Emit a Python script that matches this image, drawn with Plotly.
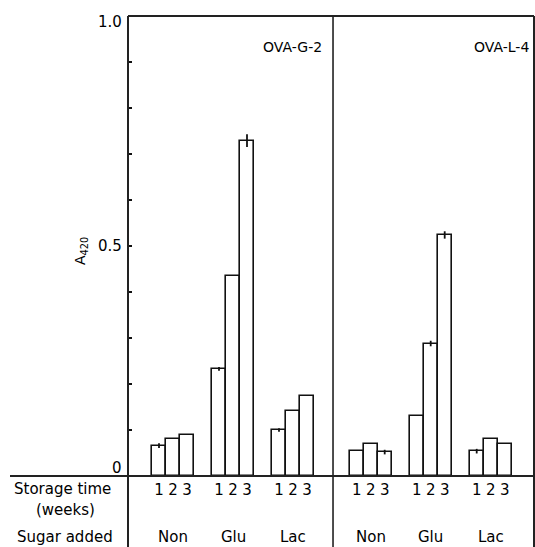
import plotly.graph_objects as go

# ---------------- data ----------------
PANELS = ["OVA-G-2", "OVA-L-4"]
SUGARS = ["Non", "Glu", "Lac"]
WEEKS = [1, 2, 3]

# A420 values: [sugar][week]
OVA_G2 = [[0.066, 0.080, 0.089],
          [0.233, 0.435, 0.729],
          [0.100, 0.141, 0.174]]
OVA_L4 = [[0.054, 0.069, 0.052],
          [0.130, 0.288, 0.524],
          [0.054, 0.080, 0.070]]
# error bars (0 = none drawn)
OVA_G2_ERR = [[0.005, 0.0, 0.0],
              [0.004, 0.0, 0.014],
              [0.004, 0.0, 0.0]]
OVA_L4_ERR = [[0.0, 0.0, 0.005],
              [0.0, 0.006, 0.008],
              [0.005, 0.0, 0.0]]

VALUES = [OVA_G2, OVA_L4]
ERRORS = [OVA_G2_ERR, OVA_L4_ERR]

Y_TICKS = [round(0.1 * i, 1) for i in range(1, 10)]
Y_LABELS = {0.0: "0", 0.5: "0.5", 1.0: "1.0"}

# ---------------- layout geometry ----------------
W, H = 535, 547
ML, MR, MT, MB = 128, 1, 16, 71
PW, PH = W - ML - MR, H - MT - MB

GROUP_STEP = 1.0
BAR_W = 14 / 60
PANEL_FIRST = [0.75, 4.045]
DIVIDER = 3.417
XMAX = PW / 60.0

FONT = "DejaVu Sans"
INK = "#000000"


def px_x(px):
    return (px - ML) / PW


def px_y(py):
    return (H - MB - py) / PH


def bar_x(p, g, w):
    return PANEL_FIRST[p] + g * GROUP_STEP + (w - 2) * BAR_W


xs, ys, errs, tick_vals, tick_text = [], [], [], [], []
for p in range(len(PANELS)):
    for g in range(len(SUGARS)):
        for wi, w in enumerate(WEEKS):
            x = bar_x(p, g, w)
            xs.append(x)
            ys.append(VALUES[p][g][wi])
            errs.append(ERRORS[p][g][wi])
            tick_vals.append(x)
            tick_text.append(str(w))

fig = go.Figure()
fig.add_bar(
    x=xs, y=ys, width=BAR_W,
    marker=dict(color="white", line=dict(color="#111111", width=1.6)),
    error_y=dict(type="data", array=errs, visible=True, width=0,
                 thickness=1.8, color="#111111"),
    hoverinfo="skip",
)

shapes = []
line = dict(color="#222222", width=2)
bottom = px_y(H)
shapes.append(dict(type="line", xref="paper", yref="paper", x0=0, x1=1, y0=1, y1=1, line=line))
shapes.append(dict(type="line", xref="paper", yref="paper", x0=px_x(10), x1=1, y0=0, y1=0, line=line))
shapes.append(dict(type="line", xref="paper", yref="paper", x0=0, x1=0, y0=bottom, y1=1, line=line))
shapes.append(dict(type="line", xref="paper", yref="paper", x0=DIVIDER / XMAX, x1=DIVIDER / XMAX,
                   y0=bottom, y1=1, line=dict(color="#222222", width=1.6)))
shapes.append(dict(type="line", xref="paper", yref="paper", x0=1, x1=1, y0=bottom, y1=1, line=line))

ann = []
shift = {0.0: 8, 0.5: 0, 1.0: -6}
for v, t in Y_LABELS.items():
    ann.append(dict(text=t, xref="paper", yref="y", x=0, y=v, xanchor="right", yanchor="middle",
                    xshift=-4, yshift=shift[v], showarrow=False, font=dict(family=FONT, size=15, color=INK)))

ann.append(dict(text="A<sub>420</sub>", xref="paper", yref="paper", x=px_x(81), y=px_y(251),
                xanchor="center", yanchor="middle", textangle=-90, showarrow=False,
                font=dict(family=FONT, size=14, color=INK)))

ann.append(dict(text=PANELS[0], xref="paper", yref="paper", x=px_x(324), y=px_y(47),
                xanchor="right", yanchor="middle", showarrow=False,
                font=dict(family=FONT, size=14, color=INK)))
ann.append(dict(text=PANELS[1], xref="paper", yref="paper", x=px_x(531), y=px_y(47),
                xanchor="right", yanchor="middle", showarrow=False,
                font=dict(family=FONT, size=14, color=INK)))

for txt, cx, cy in [("Storage time", 62, 489), ("(weeks)", 65, 510), ("Sugar added", 65, 537)]:
    ann.append(dict(text=txt, xref="paper", yref="paper", x=px_x(cx), y=px_y(cy),
                    xanchor="center", yanchor="middle", showarrow=False,
                    font=dict(family=FONT, size=15, color=INK)))

for p in range(len(PANELS)):
    for g, s in enumerate(SUGARS):
        ann.append(dict(text=s, xref="x", yref="paper", x=bar_x(p, g, 2), y=px_y(537),
                        xanchor="center", yanchor="middle", showarrow=False,
                        font=dict(family=FONT, size=15, color=INK)))

fig.update_layout(
    width=W, height=H,
    margin=dict(l=ML, r=MR, t=MT, b=MB, pad=0),
    paper_bgcolor="white", plot_bgcolor="white",
    showlegend=False, bargap=0,
    shapes=shapes, annotations=ann,
    xaxis=dict(range=[0, XMAX], showgrid=False, zeroline=False, showline=False,
               ticks="", tickvals=tick_vals, ticktext=tick_text, ticklabelstandoff=3,
               tickfont=dict(family=FONT, size=15, color=INK), fixedrange=True),
    yaxis=dict(range=[0, 1], showgrid=False, zeroline=False, showline=False,
               ticks="inside", tickvals=Y_TICKS, ticklen=4, tickwidth=1.5, tickcolor="#111111",
               showticklabels=False, fixedrange=True),
    yaxis2=dict(range=[0, 1], overlaying="y", side="right", anchor="x",
                showgrid=False, zeroline=False, showline=False,
                ticks="inside", tickvals=Y_TICKS, ticklen=4, tickwidth=1.5, tickcolor="#111111",
                showticklabels=False, fixedrange=True),
)

fig.write_html(
    "out.html",
    config={"displayModeBar": False},
    post_script="document.body.style.margin='0px';document.body.style.overflow='hidden';",
)
